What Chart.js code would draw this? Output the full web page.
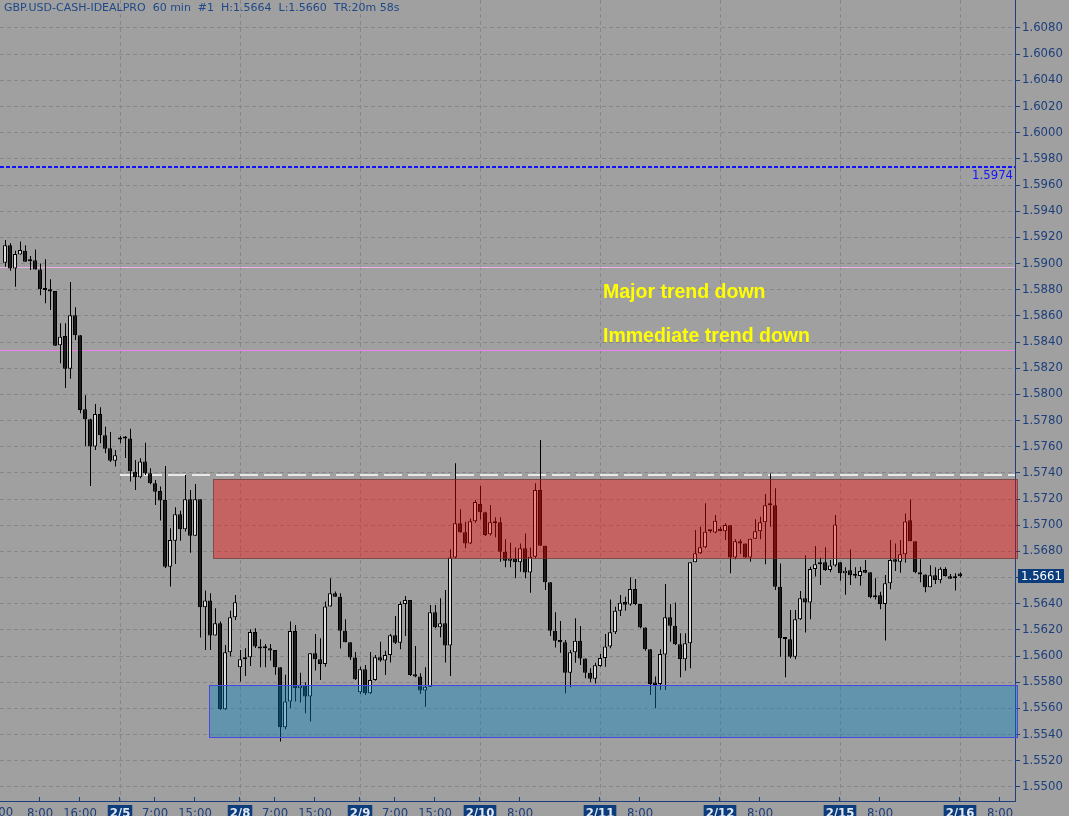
<!DOCTYPE html>
<html>
<head>
<meta charset="utf-8">
<title>GBP.USD 60 min</title>
<script src="https://cdn.jsdelivr.net/npm/chart.js@4.4.1/dist/chart.umd.min.js"></script>
<style>
  html, body { margin: 0; padding: 0; background: #a0a0a0; overflow: hidden; }
  canvas { display: block; }
</style>
</head>
<body>
<canvas id="priceChart" width="1069" height="816"></canvas>
<script>
// hourly bars (bar 0 = first bar on the left)
const open = [
  1.59006, 1.59139, 1.58961, 1.59068, 1.59098, 1.59024, 1.59024, 1.58955, 1.58805, 1.58803,
  1.58790, 1.58375, 1.58446, 1.58196, 1.58604, 1.58451, 1.57886, 1.57809, 1.57601, 1.57850,
  1.57687, 1.57588, 1.57493, 1.57662, 1.57667, 1.57662, 1.57409, 1.57366, 1.57486, 1.57397,
  1.57320, 1.57261, 1.57193, 1.56683, 1.56882, 1.57083, 1.56969, 1.57198, 1.56920, 1.57198,
  1.56373, 1.56424, 1.56156, 1.56250, 1.55593, 1.56029, 1.56296, 1.55914, 1.55975, 1.55991,
  1.56184, 1.56072, 1.56059, 1.56059, 1.56047, 1.55914, 1.55456, 1.55652, 1.56192, 1.55754,
  1.55774, 1.55690, 1.56021, 1.55975, 1.55940, 1.56378, 1.56480, 1.56454, 1.56194, 1.56105,
  1.55988, 1.55723, 1.55899, 1.55715, 1.55817, 1.55990, 1.55965, 1.56008, 1.56158, 1.56102,
  1.56398, 1.56428, 1.55860, 1.55843, 1.55736, 1.55766, 1.56334, 1.56220, 1.56250, 1.56080,
  1.56754, 1.57014, 1.56946, 1.56861, 1.57030, 1.57162, 1.57098, 1.56930, 1.57022, 1.57022,
  1.56797, 1.56729, 1.56746, 1.56716, 1.56823, 1.56639, 1.56759, 1.57269, 1.56843, 1.56563,
  1.56194, 1.56122, 1.56105, 1.55873, 1.56028, 1.56117, 1.55982, 1.55873, 1.55827, 1.55924,
  1.55985, 1.56072, 1.56181, 1.56347, 1.56413, 1.56393, 1.56512, 1.56398, 1.56219, 1.56051,
  1.55797, 1.55786, 1.56011, 1.56296, 1.56232, 1.56090, 1.55975, 1.56097, 1.56716, 1.56785,
  1.56831, 1.56953, 1.56945, 1.56973, 1.56953, 1.56999, 1.56754, 1.56877, 1.56861, 1.56754,
  1.56897, 1.56953, 1.57022, 1.57152, 1.57152, 1.56530, 1.56130, 1.56128, 1.55995, 1.56281,
  1.56441, 1.56410, 1.56665, 1.56701, 1.56716, 1.56658, 1.56691, 1.56716, 1.56632, 1.56655,
  1.56614, 1.56612, 1.56658, 1.56640, 1.56449, 1.56464, 1.56398, 1.56556, 1.56739, 1.56721,
  1.56777, 1.57037, 1.56877, 1.56640, 1.56624, 1.56525, 1.56617, 1.56579, 1.56665, 1.56609,
  1.56594, 1.56630
];
const high = [
  1.59180, 1.59154, 1.59098, 1.59169, 1.59139, 1.59057, 1.59108, 1.59001, 1.59032, 1.58879,
  1.58790, 1.58543, 1.58543, 1.58859, 1.58665, 1.58451, 1.57993, 1.57814, 1.57926, 1.57901,
  1.57753, 1.57713, 1.57575, 1.57682, 1.57682, 1.57738, 1.57498, 1.57511, 1.57631, 1.57435,
  1.57346, 1.57295, 1.57452, 1.56976, 1.57137, 1.57111, 1.57384, 1.57269, 1.57315, 1.57198,
  1.56500, 1.56480, 1.56365, 1.56263, 1.56085, 1.56347, 1.56467, 1.56047, 1.56059, 1.56205,
  1.56212, 1.56128, 1.56092, 1.56092, 1.56047, 1.55914, 1.55856, 1.56263, 1.56238, 1.55873,
  1.55800, 1.56021, 1.56169, 1.56136, 1.56416, 1.56594, 1.56493, 1.56480, 1.56281, 1.56105,
  1.56031, 1.55919, 1.55932, 1.56031, 1.56008, 1.56110, 1.56041, 1.56169, 1.56306, 1.56416,
  1.56459, 1.56428, 1.56077, 1.55868, 1.55914, 1.56390, 1.56390, 1.56441, 1.56505, 1.56816,
  1.57473, 1.57121, 1.57027, 1.57052, 1.57193, 1.57299, 1.57103, 1.57154, 1.57060, 1.57060,
  1.56892, 1.56866, 1.56830, 1.56861, 1.56937, 1.56830, 1.57320, 1.57651, 1.56843, 1.56563,
  1.56334, 1.56268, 1.56122, 1.56046, 1.56288, 1.56229, 1.55982, 1.55906, 1.55949, 1.56015,
  1.56168, 1.56433, 1.56377, 1.56466, 1.56454, 1.56602, 1.56589, 1.56398, 1.56219, 1.56051,
  1.55843, 1.56051, 1.56551, 1.56398, 1.56410, 1.56174, 1.56174, 1.56716, 1.56963, 1.56989,
  1.57167, 1.56963, 1.57078, 1.56989, 1.57014, 1.56999, 1.56892, 1.56892, 1.56861, 1.56897,
  1.57045, 1.57065, 1.57238, 1.57396, 1.57282, 1.56708, 1.56130, 1.56352, 1.56352, 1.56497,
  1.56770, 1.56683, 1.56841, 1.56754, 1.56831, 1.56734, 1.57078, 1.56716, 1.56678, 1.56815,
  1.56678, 1.56683, 1.56734, 1.56640, 1.56594, 1.56492, 1.56619, 1.56887, 1.56861, 1.56887,
  1.57090, 1.57197, 1.56877, 1.56739, 1.56624, 1.56693, 1.56678, 1.56678, 1.56678, 1.56627,
  1.56632, 1.56640
];
const low = [
  1.58976, 1.58945, 1.58823, 1.59068, 1.59014, 1.58950, 1.58955, 1.58757, 1.58696, 1.58645,
  1.58372, 1.58237, 1.58049, 1.58120, 1.58415, 1.57855, 1.57606, 1.57300, 1.57575, 1.57626,
  1.57550, 1.57483, 1.57448, 1.57626, 1.57514, 1.57333, 1.57269, 1.57358, 1.57384, 1.57312,
  1.57155, 1.57035, 1.56673, 1.56531, 1.56704, 1.56882, 1.56951, 1.56790, 1.56920, 1.56141,
  1.56047, 1.56047, 1.56156, 1.55588, 1.55588, 1.55996, 1.56276, 1.55805, 1.55848, 1.55924,
  1.56062, 1.55914, 1.55914, 1.55965, 1.55856, 1.55346, 1.55440, 1.55601, 1.55652, 1.55644,
  1.55563, 1.55499, 1.55889, 1.55817, 1.55919, 1.56378, 1.56454, 1.56057, 1.56105, 1.55970,
  1.55817, 1.55710, 1.55703, 1.55710, 1.55812, 1.55957, 1.55855, 1.55950, 1.56092, 1.56052,
  1.56153, 1.55848, 1.55838, 1.55710, 1.55613, 1.55766, 1.56212, 1.56143, 1.55950, 1.55848,
  1.56747, 1.56943, 1.56823, 1.56856, 1.57019, 1.57044, 1.56917, 1.56922, 1.56907, 1.56721,
  1.56678, 1.56678, 1.56594, 1.56645, 1.56594, 1.56484, 1.56746, 1.56843, 1.56504, 1.56153,
  1.56066, 1.56026, 1.55715, 1.55761, 1.55949, 1.55931, 1.55830, 1.55801, 1.55791, 1.55919,
  1.55919, 1.56059, 1.56168, 1.56306, 1.56347, 1.56385, 1.56390, 1.56212, 1.56041, 1.55702,
  1.55601, 1.55741, 1.55741, 1.56110, 1.56084, 1.55837, 1.55888, 1.55906, 1.56716, 1.56780,
  1.56823, 1.56943, 1.56938, 1.56953, 1.56887, 1.56632, 1.56739, 1.56780, 1.56754, 1.56721,
  1.56897, 1.56892, 1.56701, 1.56989, 1.56505, 1.55995, 1.55837, 1.55983, 1.55975, 1.56276,
  1.56179, 1.56281, 1.56607, 1.56543, 1.56650, 1.56640, 1.56683, 1.56576, 1.56469, 1.56543,
  1.56594, 1.56540, 1.56632, 1.56441, 1.56433, 1.56357, 1.56118, 1.56510, 1.56650, 1.56637,
  1.56713, 1.56877, 1.56632, 1.56563, 1.56487, 1.56525, 1.56551, 1.56556, 1.56607, 1.56591,
  1.56500, 1.56600
];
const close = [
  1.59139, 1.58961, 1.59073, 1.59103, 1.59014, 1.59017, 1.58955, 1.58803, 1.58798, 1.58787,
  1.58372, 1.58441, 1.58196, 1.58604, 1.58451, 1.57881, 1.57809, 1.57601, 1.57850, 1.57687,
  1.57585, 1.57493, 1.57534, 1.57654, 1.57662, 1.57412, 1.57366, 1.57486, 1.57397, 1.57320,
  1.57256, 1.57188, 1.56683, 1.56887, 1.57083, 1.56969, 1.57198, 1.56920, 1.57198, 1.56373,
  1.56424, 1.56156, 1.56250, 1.55593, 1.56029, 1.56296, 1.56411, 1.55975, 1.55991, 1.56184,
  1.56072, 1.56057, 1.56059, 1.56042, 1.55914, 1.55456, 1.55652, 1.56192, 1.55754, 1.55774,
  1.55690, 1.56021, 1.55975, 1.55940, 1.56378, 1.56480, 1.56454, 1.56194, 1.56105, 1.55988,
  1.55822, 1.55899, 1.55715, 1.55817, 1.55990, 1.55965, 1.56008, 1.56158, 1.56102, 1.56398,
  1.56428, 1.55855, 1.55843, 1.55736, 1.55766, 1.56334, 1.56220, 1.56250, 1.56080, 1.56754,
  1.57014, 1.56946, 1.56861, 1.57030, 1.57177, 1.57098, 1.56925, 1.57022, 1.57014, 1.56797,
  1.56729, 1.56746, 1.56716, 1.56823, 1.56639, 1.56759, 1.57269, 1.56843, 1.56563, 1.56194,
  1.56117, 1.56105, 1.55873, 1.56028, 1.56117, 1.55982, 1.55873, 1.55827, 1.55929, 1.55985,
  1.56072, 1.56181, 1.56347, 1.56408, 1.56392, 1.56512, 1.56398, 1.56219, 1.56051, 1.55786,
  1.55779, 1.56016, 1.56296, 1.56232, 1.56090, 1.55975, 1.56097, 1.56716, 1.56785, 1.56831,
  1.56950, 1.56953, 1.57034, 1.56953, 1.57001, 1.56754, 1.56877, 1.56861, 1.56754, 1.56897,
  1.56953, 1.57022, 1.57152, 1.57152, 1.56530, 1.56135, 1.56130, 1.55995, 1.56281, 1.56441,
  1.56410, 1.56665, 1.56701, 1.56716, 1.56658, 1.56691, 1.57006, 1.56632, 1.56652, 1.56617,
  1.56614, 1.56650, 1.56637, 1.56449, 1.56464, 1.56398, 1.56556, 1.56734, 1.56721, 1.56777,
  1.57029, 1.56877, 1.56640, 1.56624, 1.56525, 1.56617, 1.56581, 1.56668, 1.56612, 1.56591,
  1.56594, 1.56610
];

// time axis labels, placed on bar indexes (bar -1 falls just off the left edge)
const tickBars = [-1, 7, 15, 23, 30, 38, 47, 54, 62, 71, 78, 86, 95, 103, 119, 127, 143, 151, 167, 175, 191, 199];
const tickLabels = ['0:00', '8:00', '16:00', '2/5', '7:00', '15:00', '2/8', '7:00', '15:00', '2/9', '7:00', '15:00',
  '2/10', '8:00', '2/11', '8:00', '2/12', '8:00', '2/15', '8:00', '2/16', '8:00'];

// price axis
const priceTicks = [];
for (let p = 15500; p <= 16080; p += 20) priceTicks.push(p / 10000);

// horizontal levels drawn on the chart
const levelPrices = [1.5974, 1.5897, 1.5834, 1.5738];
const levelFromBar = [-1, -1, -1, 23];

// shaded zones: resistance (red) and support (blue)
const zoneFromBar = [41.5, 40.7];
const zoneLow = [1.5675, 1.5538];
const zoneHigh = [1.5735, 1.5578];

const notes = ['Major trend down', 'Immediate trend down'];
const noteBar = [119.6, 119.6];
const notePrice = [1.5879, 1.5845];

const titleText = 'GBP.USD-CASH-IDEALPRO  60 min  #1  H:1.5664  L:1.5660  TR:20m 58s';

const xMin = -1;
const navy = '#1d3f7c';
const levelStyle = [
  { color: '#1010ff', width: 2, dash: [4, 2] },
  { color: '#e9b2e9', width: 1, dash: [] },
  { color: '#f27ff2', width: 1, dash: [] },
  { color: '#ffffff', width: 1.5, dash: [18, 6] }
];
const zoneStyle = [
  { fill: 'rgba(255, 0, 0, 0.39)', line: 'rgba(110, 50, 50, 0.7)' },
  { fill: 'rgba(0, 128, 192, 0.39)', line: '#4848dc' }
];

const bars = open.map((o, i) => i);
// wicks sit a tenth of a bar to the right so the 1px line lands on a whole pixel
const wickShift = 0.1;
const isDay = (c) => c.tick && tickLabels[tickBars.indexOf(c.tick.value)]?.includes('/');

Chart.defaults.font.family = 'DejaVu Sans';

const extras = {
  id: 'extras',
  beforeDraw(chart) {
    const { ctx, width, height } = chart;
    ctx.save();
    ctx.fillStyle = '#a0a0a0';
    ctx.fillRect(0, 0, width, height);
    ctx.restore();
  },
  beforeDatasetsDraw(chart) {
    const { ctx, chartArea, scales } = chart;
    ctx.save();
    levelPrices.forEach((price, k) => {
      const s = levelStyle[k];
      const py = Math.round(scales.y.getPixelForValue(price)) + (s.width === 1 ? 0.5 : 0);
      const px = Math.max(chartArea.left, scales.x.getPixelForValue(levelFromBar[k]));
      ctx.beginPath();
      ctx.strokeStyle = s.color;
      ctx.lineWidth = s.width;
      ctx.setLineDash(s.dash);
      ctx.moveTo(px, py);
      ctx.lineTo(chartArea.right, py);
      ctx.stroke();
    });
    ctx.restore();
  },
  afterDatasetsDraw(chart) {
    const { ctx, chartArea, scales } = chart;
    ctx.save();
    zoneLow.forEach((lo, k) => {
      const x1 = Math.round(scales.x.getPixelForValue(zoneFromBar[k])) + 0.5;
      const x2 = chartArea.right + 2.5;
      const y1 = Math.round(scales.y.getPixelForValue(zoneHigh[k])) + 0.5;
      const y2 = Math.round(scales.y.getPixelForValue(lo)) + 0.5;
      ctx.fillStyle = zoneStyle[k].fill;
      ctx.fillRect(x1, y1, x2 - x1, y2 - y1);
      ctx.strokeStyle = zoneStyle[k].line;
      ctx.lineWidth = 1;
      ctx.strokeRect(x1, y1, x2 - x1, y2 - y1);
    });
    ctx.restore();
  },
  afterDraw(chart) {
    const { ctx, chartArea, scales } = chart;
    ctx.save();
    // header line
    ctx.font = '11px "DejaVu Sans"';
    ctx.fillStyle = '#1f4888';
    ctx.textBaseline = 'alphabetic';
    ctx.textAlign = 'left';
    ctx.fillText(titleText, 4, 10.5);

    // short tick marks just above the time axis
    ctx.strokeStyle = navy;
    ctx.lineWidth = 1;
    tickBars.forEach((b) => {
      const tx = Math.round(scales.x.getPixelForValue(b)) - 0.5;
      ctx.beginPath();
      ctx.moveTo(tx, chartArea.bottom - 4);
      ctx.lineTo(tx, chartArea.bottom);
      ctx.stroke();
    });

    // time label that sits half off the left edge of the axis
    ctx.font = '11.7px "DejaVu Sans"';
    ctx.fillStyle = navy;
    ctx.textAlign = 'center';
    ctx.textBaseline = 'top';
    tickBars.forEach((b, k) => {
      if (b <= xMin) ctx.fillText(tickLabels[k], scales.x.getPixelForValue(b), chartArea.bottom + 6);
    });

    // trend notes
    ctx.font = 'bold 19.5px "Liberation Sans", Arial';
    ctx.fillStyle = '#ffff00';
    ctx.textAlign = 'left';
    ctx.textBaseline = 'middle';
    notes.forEach((t, k) => {
      ctx.fillText(t, scales.x.getPixelForValue(noteBar[k]), scales.y.getPixelForValue(notePrice[k]) + 1.5);
    });

    // alert level value
    ctx.font = '11.7px "DejaVu Sans"';
    ctx.fillStyle = '#1414ff';
    ctx.textAlign = 'right';
    ctx.textBaseline = 'top';
    ctx.fillText(levelPrices[0].toFixed(4), chartArea.right - 2, scales.y.getPixelForValue(levelPrices[0]) + 3);

    // last price tag on the axis
    const last = close[close.length - 1];
    const ly = Math.round(scales.y.getPixelForValue(last));
    ctx.fillStyle = '#0c3c7c';
    ctx.fillRect(chartArea.right + 3, ly - 7, 46, 14);
    ctx.fillStyle = '#ffffff';
    ctx.textAlign = 'left';
    ctx.textBaseline = 'middle';
    ctx.fillText(last.toFixed(4), chartArea.right + 6, ly + 0.5);
    ctx.restore();
  }
};

new Chart(document.getElementById('priceChart'), {
  type: 'bar',
  data: {
    datasets: [
      {
        label: 'wick',
        data: bars.map(i => ({ x: i + wickShift, y: [low[i], high[i]] })),
        backgroundColor: '#000000',
        borderWidth: 0,
        barThickness: 1,
        grouped: false,
        inflateAmount: 0,
        order: 2
      },
      {
        label: 'body',
        data: bars.map(i => ({ x: i, y: [Math.min(open[i], close[i]), Math.max(open[i], close[i])] })),
        backgroundColor: (c) => close[c.dataIndex] > open[c.dataIndex] ? '#dcdcdc' : '#1c1c1c',
        borderColor: '#000000',
        borderWidth: 1,
        borderSkipped: false,
        barThickness: 4,
        minBarLength: 2,
        grouped: false,
        inflateAmount: 0,
        order: 1
      }
    ]
  },
  options: {
    responsive: false,
    animation: false,
    layout: { padding: 0 },
    plugins: { legend: { display: false }, tooltip: { enabled: false } },
    scales: {
      x: {
        type: 'linear',
        offset: false,
        min: xMin,
        max: 202,
        afterBuildTicks: (s) => { s.ticks = tickBars.filter(v => v > xMin).map(v => ({ value: v })); },
        afterFit: (s) => { s.height = 15; },
        grid: {
          offset: false,
          color: (c) => isDay(c) ? '#878787' : 'rgba(0,0,0,0)',
          drawTicks: false
        },
        border: { color: navy, width: 1, dash: [4, 3] },
        ticks: {
          autoSkip: false,
          maxRotation: 0,
          minRotation: 0,
          padding: 6,
          font: (c) => ({ family: 'DejaVu Sans', size: 11.7, weight: isDay(c) ? 'bold' : 'normal' }),
          color: (c) => isDay(c) ? '#e2e8f2' : navy,
          showLabelBackdrop: (c) => !!isDay(c),
          backdropColor: '#0c3c7c',
          backdropPadding: { left: 2, right: 2, top: 2, bottom: 2 },
          callback: (v) => tickLabels[tickBars.indexOf(v)] ?? ''
        }
      },
      y: {
        type: 'linear',
        position: 'right',
        min: 1.54892,
        max: 1.61014,
        afterBuildTicks: (s) => { s.ticks = priceTicks.map(v => ({ value: v })); },
        afterFit: (s) => {
          s.width = 54;
          s.paddingTop = 0; s.paddingBottom = 0;
        },
        grid: { color: '#878787', tickColor: navy, tickLength: 5, tickWidth: 1 },
        border: { color: navy, width: 1, dash: [4, 3] },
        ticks: {
          padding: 2,
          color: navy,
          font: { family: 'DejaVu Sans', size: 11.7 },
          callback: (v) => v.toFixed(4)
        }
      }
    }
  },
  plugins: [extras]
});
</script>
</body>
</html>
